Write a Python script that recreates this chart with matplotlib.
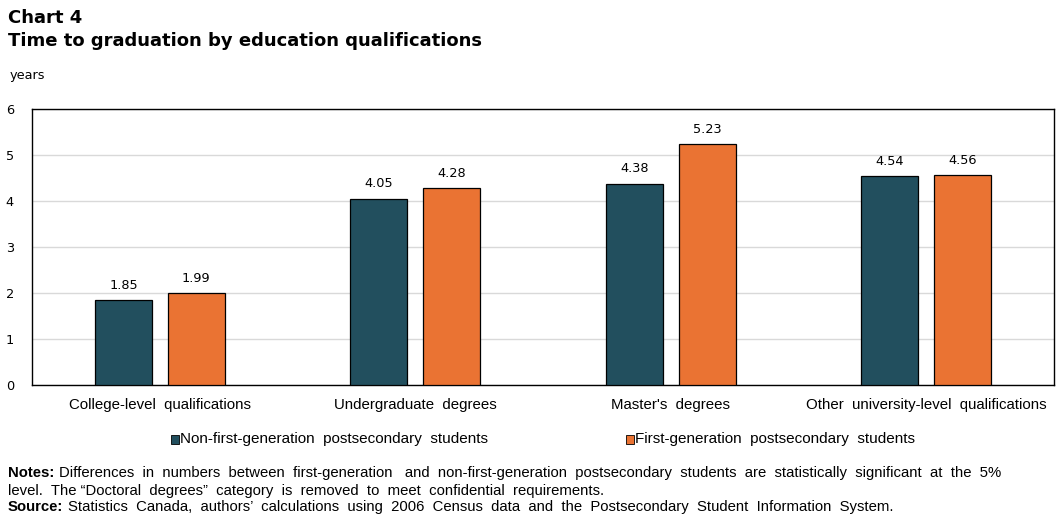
import matplotlib
matplotlib.use("Agg")
import matplotlib.pyplot as plt
import numpy as np
from matplotlib import font_manager

# ---------------------------------------------------------------------------
# Data
# ---------------------------------------------------------------------------
categories = ["College-level  qualifications", "Undergraduate  degrees",
              "Master's  degrees", "Other  university-level  qualifications"]
non_first_gen = [1.85, 4.05, 4.38, 4.54]
first_gen = [1.99, 4.28, 5.23, 4.56]
series_names = ["Non-first-generation  postsecondary  students",
                "First-generation  postsecondary  students"]
y_ticks = [0, 1, 2, 3, 4, 5, 6]

DARK = "#224f5e"
ORANGE = "#ea7333"

names = {f.name for f in font_manager.fontManager.ttflist}
narrow = "Liberation Sans Narrow" if "Liberation Sans Narrow" in names else "Liberation Sans"

W, H = 1064, 520
fig = plt.figure(figsize=(W / 100, H / 100), dpi=100)
ax = fig.add_axes([32 / W, 1 - 385 / H, (1054 - 32) / W, (385 - 109) / H])

x = np.arange(len(categories))
bw = 0.223
off = 0.142
b1 = ax.bar(x - off, non_first_gen, bw, color=DARK, edgecolor="black", linewidth=0.9, zorder=3)
b2 = ax.bar(x + off, first_gen, bw, color=ORANGE, edgecolor="black", linewidth=0.9, zorder=3)

for bars, vals in ((b1, non_first_gen), (b2, first_gen)):
    for rect, v in zip(bars, vals):
        ax.annotate(f"{v:.2f}", (rect.get_x() + rect.get_width() / 2, v),
                    xytext=(0, 6), textcoords="offset points",
                    ha="center", va="bottom", fontsize=9.3, family="DejaVu Sans")

ax.set_xlim(-0.5, len(categories) - 0.5)
ax.set_ylim(0, 6)
ax.set_yticks(y_ticks)
ax.set_yticklabels([str(t) for t in y_ticks], fontsize=9.3, family="DejaVu Sans")
ax.set_xticks(x)
ax.set_xticklabels(categories, fontsize=10.8, family=narrow)
ax.tick_params(axis="both", length=0)
ax.tick_params(axis="y", pad=13)
ax.tick_params(axis="x", pad=9)
ax.yaxis.grid(True, color="#d9d9d9", linewidth=1, zorder=0)
for s in ax.spines.values():
    s.set_linewidth(1)
    s.set_color("black")

# titles
fig.text(8 / W, 1 - 18 / H, "Chart 4", fontsize=13, fontweight="bold",
         family="DejaVu Sans", va="center")
fig.text(8 / W, 1 - 41 / H, "Time to graduation by education qualifications",
         fontsize=13, fontweight="bold", family="DejaVu Sans", va="center")
fig.text(10 / W, 1 - 76 / H, "years", fontsize=9.3, family="DejaVu Sans", va="center")

# legend
for xs, col, name in ((171, DARK, series_names[0]), (626, ORANGE, series_names[1])):
    fig.patches.append(plt.Rectangle((xs / W, 1 - 444 / H), 8 / W, 9 / H,
                                     transform=fig.transFigure, facecolor=col,
                                     edgecolor="black", linewidth=0.6))
    fig.text((xs + 9) / W, 1 - 439 / H, name, fontsize=11, family=narrow, va="center")

# notes with bold lead-ins
renderer = fig.canvas.get_renderer()


def note_line(y_px, lead, rest):
    t = fig.text(8 / W, 1 - y_px / H, lead, fontsize=10.7, family=narrow,
                 fontweight="bold", va="center")
    if lead:
        bb = t.get_window_extent(renderer)
        x0 = bb.x1 / W + 5 / W
    else:
        x0 = 8 / W
    fig.text(x0, 1 - y_px / H, rest, fontsize=10.7, family=narrow, va="center")


note_line(473, "Notes:", "Differences  in  numbers  between  first-generation   and  non-first-generation  "
          "postsecondary  students  are  statistically  significant  at  the  5%")
note_line(491, "", "level.  The \u201cDoctoral  degrees\u201d  category  is  removed  to  meet  "
          "confidential  requirements.")
note_line(507, "Source:", "Statistics  Canada,  authors\u2019  calculations  using  2006  Census  data  "
          "and  the  Postsecondary  Student  Information  System.")

fig.savefig("out.png", dpi=100)
